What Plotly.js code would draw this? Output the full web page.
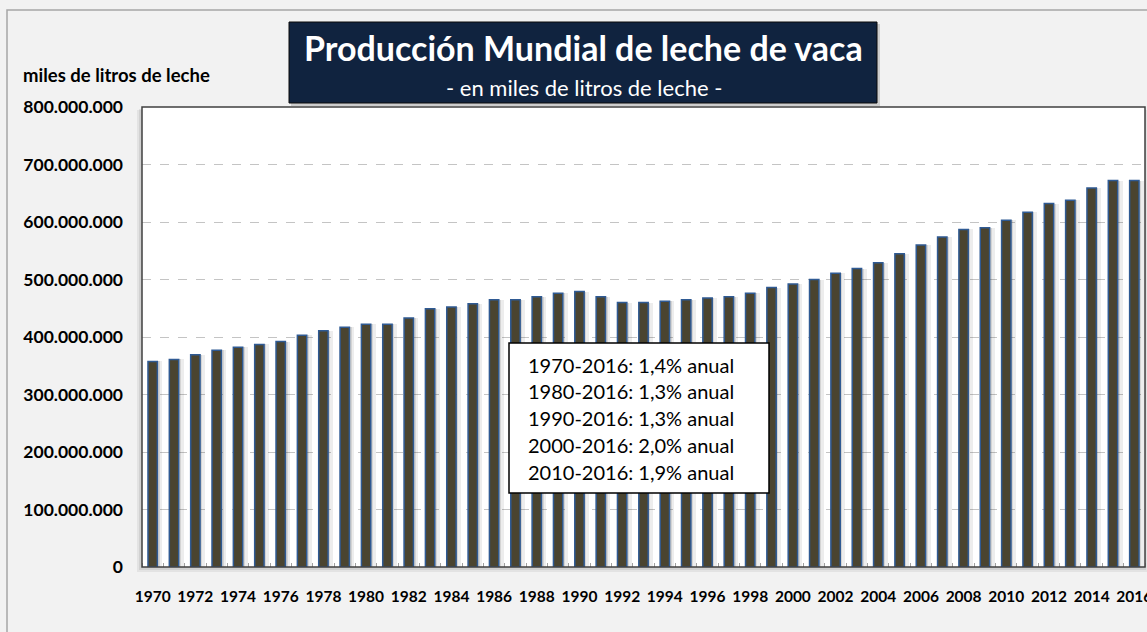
<!DOCTYPE html>
<html>
<head>
<meta charset="utf-8">
<script src="https://cdn.plot.ly/plotly-3.0.1.min.js"></script>
<style>
  html, body { margin: 0; padding: 0; background: #f2f2f2; }
  #chart { width: 1147px; height: 632px; }
</style>
</head>
<body>
<div id="chart"></div>
<script>
// ---- Data (miles de litros de leche) ----
const years = [1970,1971,1972,1973,1974,1975,1976,1977,1978,1979,
               1980,1981,1982,1983,1984,1985,1986,1987,1988,1989,
               1990,1991,1992,1993,1994,1995,1996,1997,1998,1999,
               2000,2001,2002,2003,2004,2005,2006,2007,2008,2009,
               2010,2011,2012,2013,2014,2015,2016];
const production = [357600000,361000000,369000000,377000000,382000000,387000000,392000000,403000000,411000000,417000000,
                    422000000,422000000,433000000,449000000,452000000,458000000,465000000,465000000,470000000,476000000,
                    479000000,470000000,460000000,460000000,462000000,465000000,468000000,470000000,476000000,486000000,
                    492000000,500000000,511000000,519000000,529000000,545000000,560000000,574000000,587000000,590000000,
                    603000000,617000000,632000000,638000000,659000000,672000000,672000000];
const xTickVals = [1970,1972,1974,1976,1978,1980,1982,1984,1986,1988,1990,1992,1994,1996,1998,2000,2002,2004,2006,2008,2010,2012,2014,2016];
const xTickText = ['1970','1972','1974','1976','1978','1980','1982','1984','1986','1988','1990','1992','1994','1996','1998','2000','2002','2004','2006','2008','2010','2012','2014','2016'];
const growthLines = [
  '1970-2016: 1,4% anual',
  '1980-2016: 1,3% anual',
  '1990-2016: 1,3% anual',
  '2000-2016: 2,0% anual',
  '2010-2016: 1,9% anual'
];
const titleText = 'Producción Mundial de leche de vaca';
const subtitleText = '- en miles de litros de leche -';
const yAxisLabel = 'miles de litros de leche';

// ---- Traces ----
const shadow1 = {
  type: 'bar', x: years, y: production,
  width: 0.55, offset: -0.1,
  marker: { color: 'rgba(0,0,0,0.07)', line: { width: 0 } },
  hoverinfo: 'skip', showlegend: false
};
const shadow2 = {
  type: 'bar', x: years, y: production,
  width: 0.45, offset: -0.13,
  marker: { color: 'rgba(0,0,0,0.10)', line: { width: 0 } },
  hoverinfo: 'skip', showlegend: false
};
const bars = {
  type: 'bar', x: years, y: production,
  width: 0.44, offset: -0.22,
  marker: { color: '#4a4430', line: { color: '#2f5a93', width: 1.5 } },
  showlegend: false,
  hovertemplate: '%{x}: %{y:,d}<extra></extra>'
};

// ---- Layout helpers ----
const L = 142, R = 1145, T = 107, B = 567;
const px = v => (v - L) / (R - L);
const py = v => (B - v) / (B - T);

const shapes = [
  { type: 'rect', xref: 'paper', yref: 'paper', x0: px(7), x1: px(1200), y0: py(700), y1: py(10),
    line: { color: '#a6a6a6', width: 1.5 }, fillcolor: 'rgba(0,0,0,0)', layer: 'below' },
  { type: 'rect', xref: 'paper', yref: 'paper', x0: px(L - 5), x1: px(R + 2), y0: py(B + 5), y1: py(T + 3),
    line: { width: 0 }, fillcolor: 'rgba(0,0,0,0.06)', layer: 'below' },
  { type: 'rect', xref: 'paper', yref: 'paper', x0: px(L - 3), x1: px(R + 1), y0: py(B + 3), y1: py(T + 2),
    line: { width: 0 }, fillcolor: 'rgba(0,0,0,0.08)', layer: 'below' },
  { type: 'rect', xref: 'paper', yref: 'paper', x0: 0, x1: 1, y0: 0, y1: 1,
    line: { width: 0 }, fillcolor: '#ffffff', layer: 'below' },
  { type: 'rect', xref: 'paper', yref: 'paper', x0: 0, x1: 1, y0: 0, y1: 1,
    line: { color: '#404040', width: 1.5 }, fillcolor: 'rgba(0,0,0,0)', layer: 'above' },
  { type: 'rect', xref: 'paper', yref: 'paper', x0: px(291), x1: px(880), y0: py(106), y1: py(24),
    line: { width: 0 }, fillcolor: 'rgba(0,0,0,0.15)', layer: 'above' },
  { type: 'rect', xref: 'paper', yref: 'paper', x0: px(289), x1: px(877), y0: py(103), y1: py(22),
    line: { color: '#0b0b0b', width: 1 }, fillcolor: '#10233f', layer: 'above' },
  { type: 'rect', xref: 'paper', yref: 'paper', x0: px(509), x1: px(769), y0: py(493), y1: py(343),
    line: { color: '#000000', width: 1.5 }, fillcolor: '#ffffff', layer: 'above' }
];

const annotations = [
  { xref: 'paper', yref: 'paper', x: px(583), y: py(47), text: '<b>' + titleText + '</b>',
    showarrow: false, xanchor: 'center', yanchor: 'middle',
    font: { family: 'Lato, sans-serif', size: 34, color: '#ffffff' } },
  { xref: 'paper', yref: 'paper', x: px(584), y: py(87), text: subtitleText,
    showarrow: false, xanchor: 'center', yanchor: 'middle',
    font: { family: 'Lato, sans-serif', size: 22, color: '#ffffff' } },
  { xref: 'paper', yref: 'paper', x: px(21), y: py(75), text: '<b>' + yAxisLabel + '</b>',
    showarrow: false, xanchor: 'left', yanchor: 'middle',
    font: { family: 'Lato, sans-serif', size: 18.5, color: '#000000' } }
];
const lineYs = [365, 391, 418, 445, 472];
growthLines.forEach((t, i) => {
  annotations.push({ xref: 'paper', yref: 'paper', x: px(526), y: py(lineYs[i]), text: t,
    showarrow: false, xanchor: 'left', yanchor: 'middle',
    font: { family: 'Lato, sans-serif', size: 20, color: '#000000' } });
});

const layout = {
  width: 1147, height: 632,
  margin: { l: L, r: 1147 - R, t: T, b: 632 - B, pad: 0 },
  paper_bgcolor: '#f2f2f2',
  plot_bgcolor: 'rgba(0,0,0,0)',
  barmode: 'overlay',
  bargap: 0,
  separators: ',.',
  showlegend: false,
  xaxis: {
    type: 'linear',
    range: [1969.5, 2016.5],
    tickvals: xTickVals, ticktext: xTickText,
    ticks: '', showgrid: false, zeroline: false, showline: false,
    ticklabelstandoff: 18,
    ticklabeloverflow: 'allow',
    tickfont: { family: 'Lato, sans-serif', size: 15.5, color: '#000000', weight: 'bold' },
    minor: { ticks: 'inside', dtick: 1, tick0: 1969.5, ticklen: 4, tickcolor: '#a0a0a0', showgrid: false },
    fixedrange: true
  },
  yaxis: {
    range: [0, 800000000],
    dtick: 100000000,
    tickformat: ',d',
    ticks: '', showline: false, zeroline: false,
    showgrid: true, gridcolor: '#c4c4c4', gridwidth: 1, griddash: 'dash',
    ticklabelstandoff: 18,
    tickfont: { family: 'Lato, sans-serif', size: 17.5, color: '#000000', weight: 'bold' },
    fixedrange: true
  },
  shapes: shapes,
  annotations: annotations
};

Plotly.newPlot('chart', [shadow1, shadow2, bars], layout, { displayModeBar: false, staticPlot: true });
</script>
</body>
</html>
